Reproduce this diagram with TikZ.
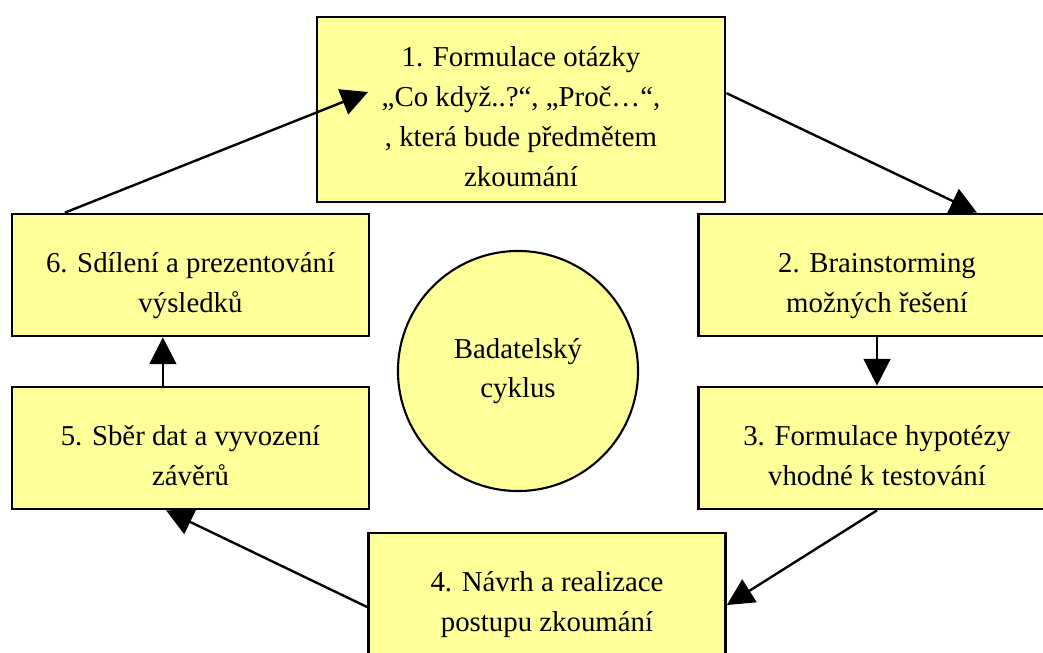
\documentclass[tikz,border=0pt]{standalone}
\usepackage{fontspec}
\setmainfont{Liberation Serif}
\usepackage{xcolor}
\usetikzlibrary{positioning,arrows.meta}
\definecolor{boxfill}{HTML}{FFFF99}
% box text sits a little below the middle
\newcommand{\steptext}[1]{\raisebox{-0.23cm}[\height][\depth]{\begin{tabular}{@{}c@{}}#1\end{tabular}}}

\begin{document}
\begin{tikzpicture}[
  x=0.025cm,y=-0.025cm,
  font=\fontsize{20.5}{28.3}\selectfont,
  box/.style={draw,line width=1.9pt,fill=boxfill,minimum width=8.925cm,minimum height=3.05cm,inner sep=0pt},
  hub/.style={draw,line width=1.5pt,fill=boxfill,circle,minimum size=6cm,align=center,inner sep=0pt},
  arr/.style={-{Triangle[length=19pt,width=19pt]},line width=1.7pt}]
  \useasboundingbox (0,0) rectangle (1043,652);
  % centre
  \node[hub] (cyc) at (518,371) {Badatelský\\cyklus};
  % six steps of the cycle
  \node[box,minimum width=10.2cm,minimum height=4.625cm] (s1) at (521,109.5)
    {\steptext{1. Formulace otázky\\„Co když..?“, „Proč…“,\\, která bude předmětem\\zkoumání}};
  \node[box] (s2) at (877,275) {\steptext{2. Brainstorming\\možných řešení}};
  \node[box] (s3) at (877,448) {\steptext{3. Formulace hypotézy\\vhodné k testování}};
  \node[box] (s4) at (547,594) {\steptext{4. Návrh a realizace\\postupu zkoumání}};
  \node[box] (s5) at (190.5,448) {\steptext{5. Sběr dat a vyvození\\závěrů}};
  \node[box] (s6) at (190.5,275) {\steptext{6. Sdílení a prezentování\\výsledků}};
  \coordinate (q1) at (368,92);
  % arrows
  \draw[arr] ([xshift=-3.14cm]s6.north) -- (q1);
  \draw[arr] ([yshift=0.41cm]s1.east) -- ([xshift=2.5cm]s2.north);
  \draw[arr] (s2) -- (s3);
  \draw[arr] (s3.south) -- ([yshift=-0.275cm]s4.east);
  \draw[arr] ([yshift=-0.325cm]s4.west) -- ([xshift=-0.61cm]s5.south);
  \draw[arr] ([xshift=-0.69cm]s5.north) -- ([xshift=-0.69cm]s6.south);
\end{tikzpicture}
\end{document}
